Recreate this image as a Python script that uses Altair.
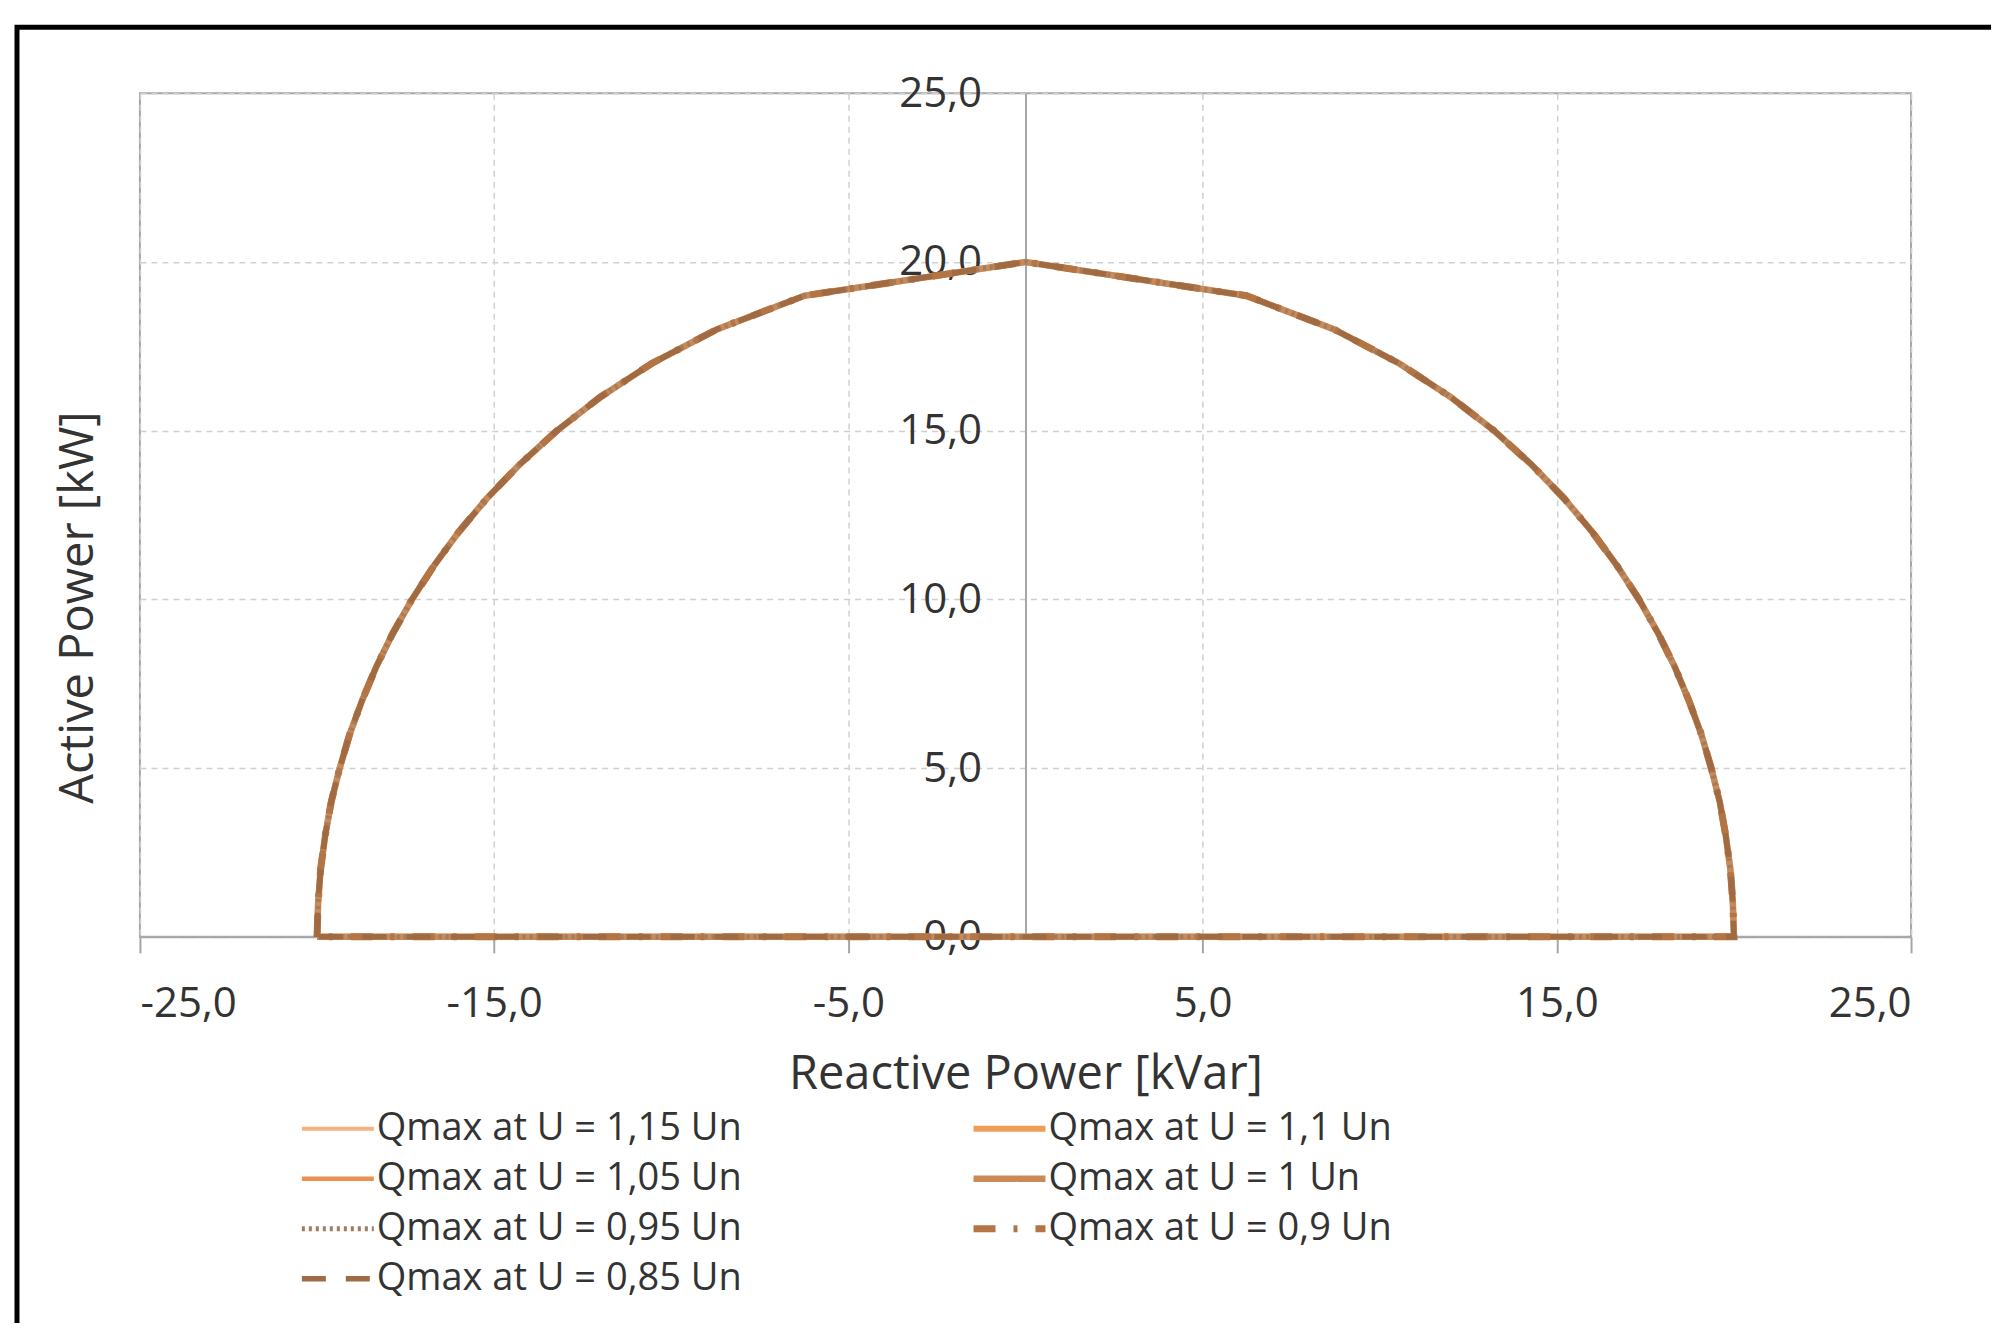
import altair as alt
import pandas as pd

series = ["Qmax at U = 1,15 Un", "Qmax at U = 1,1 Un", "Qmax at U = 1,05 Un",
          "Qmax at U = 1 Un", "Qmax at U = 0,95 Un", "Qmax at U = 0,9 Un",
          "Qmax at U = 0,85 Un"]
colors = ["#F5B27C", "#EF9E5A", "#EA9350", "#C98A58", "#A07C60", "#B57444", "#A06A42"]
dashes = [[1, 0], [1, 0], [1, 0], [1, 0], [3, 4], [22, 18, 4, 18], [24, 20]]
widths = [4, 5, 7, 5, 3, 4, 4]
# legend shows two columns filled top-to-bottom
legend_order = ["Qmax at U = 1,15 Un", "Qmax at U = 1,05 Un", "Qmax at U = 0,95 Un",
                "Qmax at U = 0,85 Un", "Qmax at U = 1,1 Un", "Qmax at U = 1 Un",
                "Qmax at U = 0,9 Un"]

# Capability curve path (same for every voltage level, curves coincide)
reactive_power = [-20.0, -19.97, -19.9, -19.77, -19.6, -19.36, -19.08, -18.73, -18.33,
                  -17.86, -17.32, -16.7, -16.0, -15.2, -14.28, -13.23, -12.0, -10.54,
                  -8.72, -6.24, 0.0,
                  6.24, 8.72, 10.54, 12.0, 13.23, 14.28, 15.2, 16.0, 16.7, 17.32,
                  17.86, 18.33, 18.73, 19.08, 19.36, 19.6, 19.77, 19.9, 19.97, 20.0,
                  -20.0]
active_power = [0, 1, 2, 3, 4, 5, 6, 7, 8, 9, 10, 11, 12, 13, 14, 15, 16, 17, 18, 19, 20,
                19, 18, 17, 16, 15, 14, 13, 12, 11, 10, 9, 8, 7, 6, 5, 4, 3, 2, 1, 0,
                0]

x_ticks = [-25, -15, -5, 5, 15, 25]
y_ticks = [0, 5, 10, 15, 20, 25]

rows = []
for s in series:
    for i, (q, p) in enumerate(zip(reactive_power, active_power)):
        rows.append({"series": s, "Q": q, "P": p, "order": i})
df = pd.DataFrame(rows)

label_expr = "replace(replace(format(datum.value, '.1f'), '.', ','), '\u2212', '-')"
txt = "#333333"
gray = "#A6A6A6"

lines = alt.Chart(df).mark_line(clip=False).encode(
    x=alt.X("Q:Q",
            scale=alt.Scale(domain=[-25, 25], nice=False, zero=False),
            axis=alt.Axis(values=x_ticks, labelExpr=label_expr,
                          title="Reactive Power [kVar]",
                          grid=True, gridDash=[6, 5], gridColor="#D0D0D0", gridWidth=1.5,
                          domainColor=gray, domainWidth=2,
                          tickColor=gray, tickSize=16, tickWidth=2,
                          labelFontSize=42, labelPadding=31, labelColor=txt,
                          titleFontSize=47, titleFontWeight="normal", titleColor=txt,
                          titleY=138, titleBaseline="middle")),
    y=alt.Y("P:Q",
            scale=alt.Scale(domain=[0, 25], nice=False),
            axis=alt.Axis(values=y_ticks, labelExpr=label_expr, offset=-886,
                          ticks=False, labelPadding=44, labelFontSize=42, labelColor=txt,
                          grid=True, gridDash=[6, 5], gridColor="#D0D0D0", gridWidth=1.5,
                          domainColor=gray, domainWidth=2,
                          title="Active Power [kW]", titleFontSize=47,
                          titleFontWeight="normal", titleColor=txt,
                          titleX=-947, titleY=514, titleAlign="center",
                          titleBaseline="middle")),
    color=alt.Color("series:N", sort=legend_order,
                    scale=alt.Scale(domain=legend_order,
                                    range=[colors[series.index(s)] for s in legend_order]),
                    legend=alt.Legend(title=None, orient="none", legendX=151, legendY=1017,
                                      columns=2, symbolType="M-1,0L8,0", symbolSize=256,
                                      symbolStrokeWidth=5,
                                      labelFontSize=38, labelLimit=0, labelOffset=48,
                                      columnPadding=217, rowPadding=12, padding=0,
                                      labelColor=txt)),
    strokeDash=alt.StrokeDash("series:N", sort=legend_order,
                              scale=alt.Scale(domain=legend_order,
                                              range=[dashes[series.index(s)] for s in legend_order])),
    strokeWidth=alt.StrokeWidth("series:O", sort=legend_order,
                                scale=alt.Scale(domain=legend_order,
                                                range=[widths[series.index(s)] for s in legend_order])),
    order="order:Q",
)

frame = alt.Chart(alt.Data(values=[{"a": 1}])).mark_rect(
    filled=False, stroke="black", strokeWidth=5, clip=False
).encode(
    x=alt.value(-123), x2=alt.value(1900),
    y=alt.value(-66), y2=alt.value(1300),
)

chart = alt.layer(lines, frame).properties(
    width=1772, height=844,
    autosize=alt.AutoSizeParams(type="none"),
    padding={"left": 132, "top": 85, "right": 80, "bottom": 386},
    background="white",
).configure(font="Open Sans").configure_view(stroke=gray, strokeWidth=2)

chart.save("out.html", embed_options={"renderer": "svg", "actions": False})
